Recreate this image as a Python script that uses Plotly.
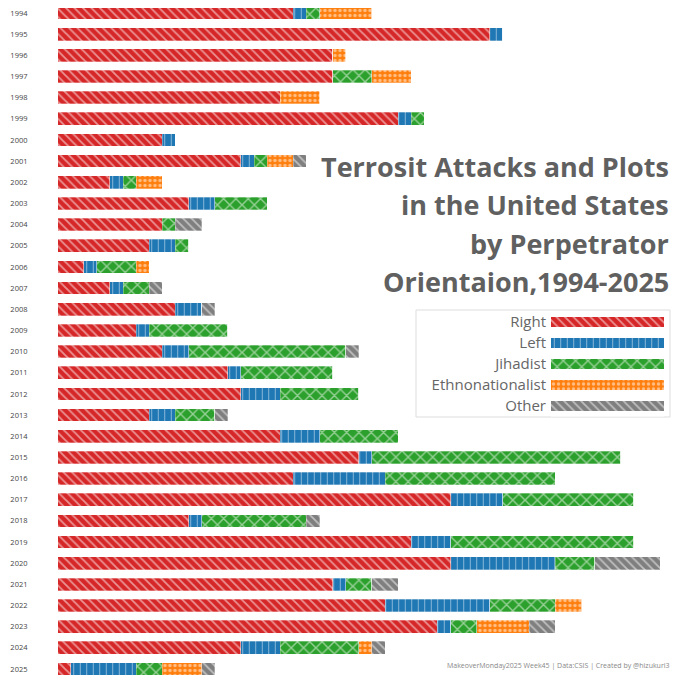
import plotly.graph_objects as go

years = [str(y) for y in range(1994, 2026)]
right = [18, 33, 21, 21, 17, 26, 8, 14, 4, 10, 8, 7, 2, 4, 9, 6,
         8, 13, 14, 7, 17, 23, 18, 30, 10, 27, 30, 21, 25, 29, 14, 1]
left = [1, 1, 0, 0, 0, 1, 1, 1, 1, 2, 0, 2, 1, 1, 2, 1,
        2, 1, 3, 2, 3, 1, 7, 4, 1, 3, 8, 1, 8, 1, 3, 5]
jihadist = [1, 0, 0, 3, 0, 1, 0, 1, 1, 4, 1, 1, 3, 2, 0, 6,
            12, 7, 6, 3, 6, 19, 13, 10, 8, 14, 3, 2, 5, 2, 6, 2]
ethno = [4, 0, 1, 3, 3, 0, 0, 2, 2, 0, 0, 0, 1, 0, 0, 0,
         0, 0, 0, 0, 0, 0, 0, 0, 0, 0, 0, 0, 2, 4, 1, 3]
other = [0, 0, 0, 0, 0, 0, 0, 1, 0, 0, 2, 0, 0, 1, 1, 0,
         1, 0, 0, 1, 0, 0, 0, 0, 1, 0, 5, 2, 0, 2, 1, 1]

series_names = ['Right', 'Left', 'Jihadist', 'Ethnonationalist', 'Other']
series_values = [right, left, jihadist, ethno, other]
colors = ['#d62728', '#1f77b4', '#2ca02c', '#ff7f0e', '#7f7f7f']
shapes = ['\\', '|', 'x', '.', '\\']
sizes = [6, 6.5, 8.7, 5, 6]
solid = [0.3, 0.15, 0.3, 0.35, 0.3]

title_lines = ['Terrosit Attacks and Plots', 'in the United States',
               'by Perpetrator', 'Orientaion,1994-2025']
note = 'MakeoverMonday2025 Week45 | Data:CSIS | Created by @hizukuri3'

# ページ余白(8px)を考慮した座標変換
OFF = 8
W = 680 - OFF
def px(x):
    return (x - OFF) / W
def py(y):
    return 1 - (y - OFF) / W

unit_px = 13.1
x0_px = 57.5
row_top, row_bot = 13, 669
row_step = (row_bot - row_top) / (len(years) - 1)

fig = go.Figure()
for name, vals, c, sh, sz, so in zip(series_names, series_values, colors, shapes, sizes, solid):
    pat = dict(shape=sh, fillmode='overlay', bgcolor=c, fgcolor='white', size=sz, solidity=so)
    fig.add_trace(go.Bar(
        y=years, x=vals, orientation='h', name=name, width=0.6,
        marker=dict(color=c, pattern=pat, line=dict(width=0.6, color='rgba(255,255,255,0.5)')),
    ))
    # 凡例用のバー
    fig.add_trace(go.Bar(
        y=[name], x=[1], orientation='h', xaxis='x2', yaxis='y2', width=0.45,
        marker=dict(color=c, pattern=pat, line=dict(width=0)),
    ))

# タイトル
for i, line in enumerate(title_lines):
    fig.add_annotation(
        x=px(671), y=py(167 + 38 * i), xref='paper', yref='paper',
        text=line, showarrow=False, xanchor='right', yanchor='middle',
        font=dict(family='Open Sans', size=27, color='#606060', weight='bold'),
    )

fig.add_annotation(
    x=px(672), y=py(665), xref='paper', yref='paper', text=note,
    showarrow=False, xanchor='right', yanchor='middle',
    font=dict(family='Open Sans', size=7, color='#888888'),
)

# 凡例の枠
fig.add_shape(type='rect', xref='paper', yref='paper',
              x0=px(416), x1=px(670), y0=py(417), y1=py(310),
              line=dict(color='#dddddd', width=1), fillcolor='rgba(0,0,0,0)', layer='below')

fig.update_layout(
    width=W, height=W,
    margin=dict(l=0, r=0, t=0, b=0),
    barmode='stack',
    showlegend=False,
    plot_bgcolor='white', paper_bgcolor='white',
    font=dict(family='Open Sans'),
    xaxis=dict(domain=[px(x0_px), 1], range=[0, (680 - x0_px) / unit_px],
               visible=False, fixedrange=True, automargin=False),
    yaxis=dict(domain=[0, 1], type='category',
               range=[(680 - row_top) / row_step, (OFF - row_top) / row_step],
               showgrid=False, zeroline=False, showline=False, ticks='', automargin=False,
               ticklabelstandoff=29, tickfont=dict(size=7.5, color='#444444')),
    xaxis2=dict(domain=[px(551), px(664)], range=[0, 1], visible=False, anchor='y2',
                automargin=False),
    yaxis2=dict(domain=[py(416.5), py(311.5)], type='category', autorange='reversed',
                anchor='x2', showgrid=False, zeroline=False, showline=False, ticks='',
                automargin=False, ticklabelstandoff=4, tickfont=dict(size=15, color='#666666')),
)

fig.write_html('out.html')
